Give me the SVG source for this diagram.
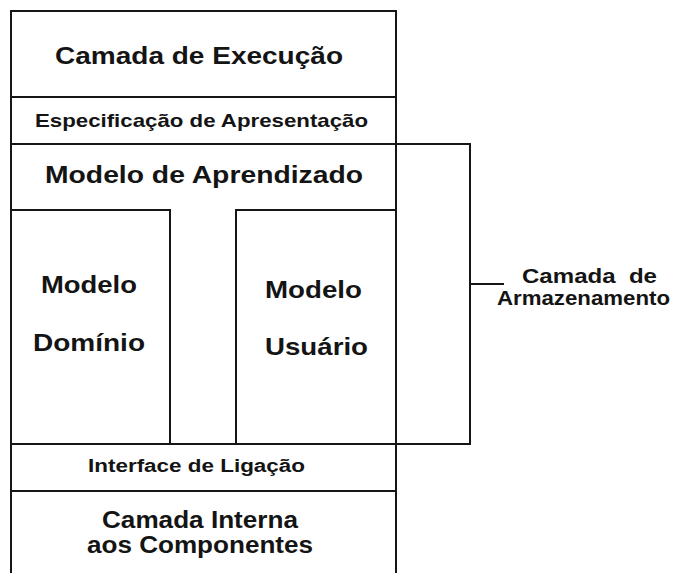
<svg xmlns="http://www.w3.org/2000/svg" width="673" height="573" viewBox="0 0 673 573">
<style>
.ln{fill:none;stroke:#161616;stroke-width:2;stroke-linecap:square}
text{font-family:"Liberation Sans",Arial,sans-serif;font-weight:bold;fill:#141414}
.t24{font-size:24px}
.t23{font-size:23px}
.t19{font-size:19px}
.t18{font-size:18px}
.t20{font-size:20px}
</style>
<rect width="673" height="573" fill="#ffffff"/>
<g id="outer">
<path class="ln" d="M11,580 V11 H396 V580"/>
</g>
<g id="camada-execucao">
<text class="t23" x="55" y="64" textLength="288" lengthAdjust="spacingAndGlyphs">Camada de Execução</text>
<path class="ln" d="M11,97 H396"/>
</g>
<g id="especificacao">
<text class="t19" x="35" y="126.5" textLength="333" lengthAdjust="spacingAndGlyphs">Especificação de Apresentação</text>
<path class="ln" d="M11,144 H396"/>
</g>
<g id="modelo-aprendizado">
<text class="t24" x="45" y="183" textLength="318" lengthAdjust="spacingAndGlyphs">Modelo de Aprendizado</text>
</g>
<g id="modelo-dominio">
<path class="ln" d="M11,210 H170 V444"/>
<text class="t24" x="41" y="293" textLength="96" lengthAdjust="spacingAndGlyphs">Modelo</text>
<text class="t24" x="33" y="351" textLength="112" lengthAdjust="spacingAndGlyphs">Domínio</text>
</g>
<g id="modelo-usuario">
<path class="ln" d="M236,444 V210 H396"/>
<text class="t24" x="265" y="298" textLength="97" lengthAdjust="spacingAndGlyphs">Modelo</text>
<text class="t24" x="265" y="355" textLength="103" lengthAdjust="spacingAndGlyphs">Usuário</text>
</g>
<g id="interface-ligacao">
<path class="ln" d="M11,444 H396"/>
<text class="t18" x="88" y="472" textLength="217" lengthAdjust="spacingAndGlyphs">Interface de Ligação</text>
<path class="ln" d="M11,491 H396"/>
</g>
<g id="camada-interna">
<text class="t23" x="102" y="528" textLength="196" lengthAdjust="spacingAndGlyphs">Camada Interna</text>
<text class="t23" x="87" y="553" textLength="226" lengthAdjust="spacingAndGlyphs">aos Componentes</text>
</g>
<g id="camada-armazenamento">
<text class="t20" x="522" y="283" textLength="135" lengthAdjust="spacingAndGlyphs" xml:space="preserve">Camada  de</text>
<text class="t20" x="497" y="305" textLength="173" lengthAdjust="spacingAndGlyphs">Armazenamento</text>
</g>
<g id="connectors">
<path class="ln" d="M396,144 H470 V444 H396"/>
<path class="ln" d="M470,284 H503"/>
</g>
</svg>
